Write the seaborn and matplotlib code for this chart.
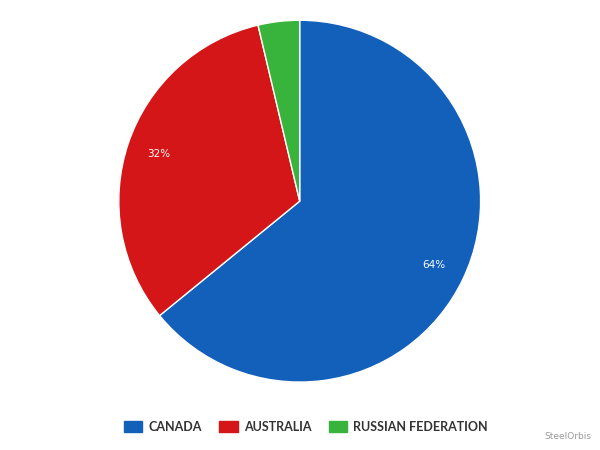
import matplotlib
matplotlib.use("Agg")
import matplotlib.pyplot as plt
import matplotlib.patches as mpatches
import seaborn as sns
import numpy as np

# --- datos ---
paises = ["CANADA", "AUSTRALIA", "RUSSIAN FEDERATION"]
porcentajes = [64.1, 32.2, 3.7]
etiquetas_pct = ["64%", "32%", ""]
colores = sns.color_palette(["#1360bb", "#d41619", "#38b43c"])

sns.set_theme(style="white")
plt.rcParams['font.family'] = ['Lato', 'DejaVu Sans']

fig = plt.figure(figsize=(6, 4.5), dpi=100)
ax = fig.add_axes([0.198, 0.151, 0.603, 0.804])

wedges, _ = ax.pie(
    porcentajes,
    colors=colores,
    startangle=90,
    counterclock=False,
    radius=1,
    wedgeprops={'edgecolor': 'white', 'linewidth': 1},
)
# etiquetas de porcentaje dentro de cada sector
acum = 0
for val, txt in zip(porcentajes, etiquetas_pct):
    medio = 90 - (acum + val / 2) * 3.6
    acum += val
    if txt:
        ang = np.deg2rad(medio)
        ax.text(0.82 * np.cos(ang), 0.82 * np.sin(ang), txt,
                ha='center', va='center', color='white', fontsize=7.5,
                family=['DejaVu Sans'])

ax.set_xlim(-1, 1)
ax.set_ylim(-1, 1)
ax.set_aspect('equal')
ax.axis('off')

handles = [mpatches.Patch(color=c, label=p) for c, p in zip(colores, paises)]
fig.legend(handles=handles, loc='center', bbox_to_anchor=(0.51, 0.051),
           ncol=3, frameon=False, handlelength=1.45, handleheight=0.95,
           handletextpad=0.5, columnspacing=1.4,
           prop={'size': 9, 'weight': 'bold'}, labelcolor='#333333')

fig.text(0.985, 0.02, "SteelOrbis", ha='right', va='bottom',
         fontsize=6.5, color='#999999', family=['DejaVu Sans'])

fig.savefig("out.png", dpi=100)
